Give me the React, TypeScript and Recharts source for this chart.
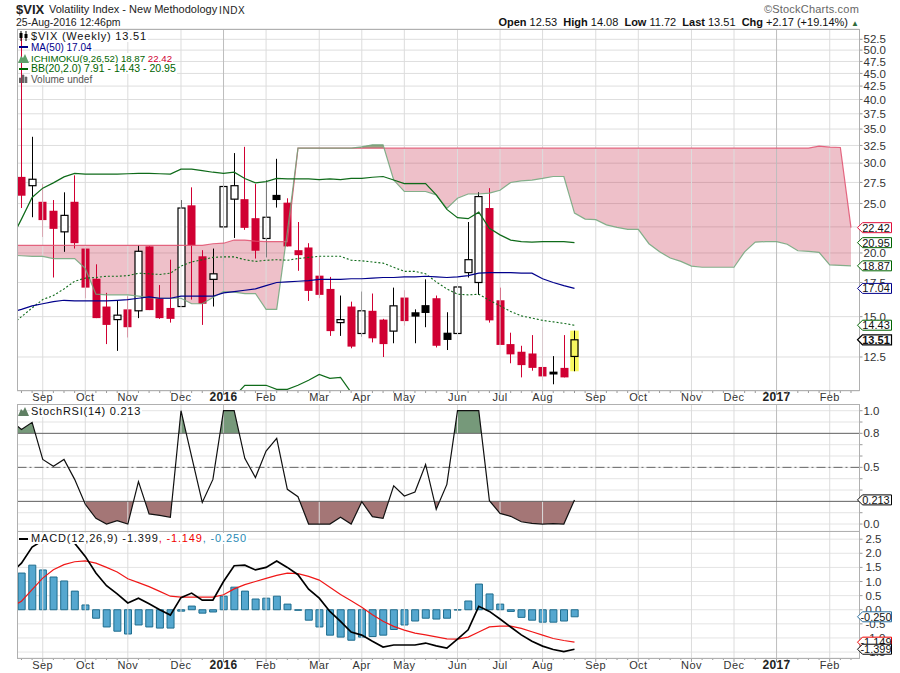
import React from "react";
import { ComposedChart, Bar, Line, Area, XAxis, YAxis, CartesianGrid, ReferenceLine, ReferenceArea, ReferenceDot } from "recharts";

// weekly candles, index 0 = Aug 2015
const opens = [28.2,27.1,25.2,24.2,22.0,25.2,20.4,17.8,15.7,14.8,15.5,15.4,20.6,16.3,15.6,15.7,24.8,19.7,17.75,22.5,25.5,25.5,23.4,21.35,26.0,25.1,20.25,20.5,18.05,17.0,14.6,15.7,13.9,15.4,14.8,14.05,16.35,15.3,15.8,16.3,13.95,13.9,18.3,17.5,24.5,16.15,13.25,12.8,12.7,11.95,11.7,11.9,12.53];
const highs = [53.3,33.8,27.3,25.4,26.3,28.4,20.5,19.0,16.7,16.1,16.45,20.7,20.6,17.3,19.4,25.4,26.9,20.25,20.4,27.1,31.4,32.3,27.3,27.8,30.6,25.6,23.0,20.9,19.65,17.95,16.5,16.05,16.8,16.65,14.85,17.1,16.9,15.5,17.75,16.5,15.3,17.4,23.0,26.3,26.8,17.1,13.95,13.15,13.8,14.3,12.55,13.8,14.08];
const lows = [24.5,23.5,21.5,17.9,20.1,20.4,16.3,14.9,13.25,12.85,13.65,14.9,15.45,14.85,14.6,15.7,16.2,14.45,15.7,19.3,21.4,22.2,19.5,19.6,24.55,20.6,18.45,16.1,16.3,13.75,13.75,13.0,13.7,13.35,12.5,13.3,14.4,13.3,14.3,13.05,12.9,12.75,17.9,16.55,14.6,13.2,12.15,11.4,11.75,11.25,11.05,11.4,11.72];
const closes = [25.9,27.9,23.2,22.3,23.7,20.9,17.1,14.9,14.45,15.1,14.3,20.15,15.45,14.9,14.85,24.5,20.7,15.9,18.2,27.0,27.1,22.4,20.2,23.5,25.4,20.6,19.8,16.85,16.55,14.05,14.8,13.1,15.4,13.6,13.25,15.75,14.7,15.0,15.25,13.15,13.5,17.15,19.4,25.8,14.75,13.2,12.65,12.05,11.9,11.45,11.55,11.4,13.51];
const candleKinds = "rhrrhrrrrhrhrrrhrrhhhrrhkrrrrrhrhrrhrkkrkhhhrrrrrrkrh";

// overlays start one week before the first candle (index -1)
const ma50 = [15.3,15.5,15.75,15.9,16.05,16.15,16.1,16.1,16.1,16.1,16.15,16.2,16.3,16.4,16.3,16.3,16.45,16.45,16.45,16.45,16.7,16.8,16.9,17.0,17.25,17.5,17.55,17.6,17.65,17.75,17.75,17.75,17.8,17.8,17.85,17.9,17.9,17.95,17.95,18.0,17.95,17.9,17.95,18.05,18.25,18.3,18.3,18.3,18.25,18.25,17.8,17.5,17.25,17.04];
const bbUpper = [21.2,23.3,25.7,26.8,27.45,28.2,28.65,28.55,28.55,28.55,28.55,28.6,28.65,28.65,28.6,28.55,29.2,29.2,29.0,28.8,28.65,28.8,28.0,27.45,27.6,28.0,27.95,27.95,27.95,27.85,27.95,27.85,28.0,28.0,28.15,28.25,27.8,27.35,27.35,27.35,26.0,24.35,23.45,23.35,24.05,22.35,21.7,21.2,21.05,21.0,21.05,21.05,21.05,20.95];
const bbMid = [14.4,15.0,15.6,16.2,16.5,17.0,17.6,17.85,17.9,18.0,18.0,18.05,18.25,18.2,18.15,18.25,18.85,19.2,19.4,19.6,19.65,19.65,19.4,19.25,19.35,19.4,19.35,19.5,19.6,19.7,19.7,19.7,19.35,19.3,19.2,19.1,18.75,18.4,18.4,18.2,17.55,17.0,16.6,16.55,16.6,16.15,15.75,15.35,15.05,14.9,14.75,14.65,14.55,14.43];
const bbLowerWeeks = [20,21,22,23,24,25,26,27,28,29,30,31,32];
const bbLowerValues = [10.45,11.0,11.0,11.0,10.8,10.8,11.0,11.25,11.55,11.35,11.4,10.65,10.2];

const spanA = [19.8,19.75,19.7,19.7,19.5,19.5,19.5,18.65,16.6,16.55,16.55,16.55,16.45,16.35,16.3,16.3,16.3,15.9,15.9,16.35,16.8,16.75,16.65,16.65,15.5,15.5,22.0,32.1,32.1,32.1,32.1,32.1,32.1,32.3,32.6,32.6,27.8,26.4,26.4,26.4,26.0,24.45,25.6,26.1,26.1,26.2,26.55,27.5,27.7,27.8,28.0,28.25,28.25,23.95,23.3,23.25,22.7,22.45,22.25,22.25,20.85,20.1,19.55,19.25,18.85,18.75,18.75,18.75,18.75,20.1,21.0,21.05,21.05,20.8,20.2,20.15,20.05,18.95,18.9,18.87];
const spanB = [20.7,20.7,20.7,20.7,20.7,20.7,20.7,20.7,20.7,20.7,20.7,20.7,20.7,20.7,20.7,20.7,20.7,20.7,20.7,20.85,20.9,21.2,21.2,21.1,21.05,21.05,21.05,
  32.1,32.1,32.1,32.1,32.1,32.1,32.1,32.1,32.1,32.1,32.1,32.1,32.1,32.1,32.1,32.1,32.1,32.1,32.1,32.1,32.1,32.1,32.1,32.1,32.1,32.1,32.1,32.1,32.1,32.1,32.1,32.1,32.1,32.1,32.1,32.1,32.1,32.1,32.1,32.1,32.1,32.1,32.1,32.1,32.1,32.1,32.1,32.1,32.1,
  32.4,32.25,32.2,22.42];

const stochRsi = [0.909,0.835,0.897,0.57,0.51,0.57,0.394,0.174,0.05,0,0.03,0,0.374,0.09,0.076,0.06,1,0.594,0.19,0.394,1,1,0.58,0.41,0.644,0.756,0.306,0.241,0,0,0,0.06,0,0.197,0.065,0.05,0.338,0.247,0.282,0.526,0.13,0.35,1,1,1,0.206,0.094,0.068,0.02,0.006,0,0.003,0,0.213];

const macdLine = [1.3,1.65,2.22,2.45,2.55,2.55,2.36,1.89,1.3,0.85,0.56,0.24,0.41,0.21,0,-0.19,0.43,0.59,0.34,0.34,1.0,1.56,1.58,1.41,1.5,1.73,1.5,1.24,0.73,0.41,-0.06,-0.41,-0.79,-0.9,-1.12,-1.32,-1.25,-1.25,-1.25,-1.18,-1.28,-1.36,-1.04,-0.71,0.12,-0.06,-0.33,-0.61,-0.89,-1.12,-1.29,-1.41,-1.48,-1.399];
const macdSignal = [0.09,0.3,0.71,1.12,1.42,1.6,1.7,1.73,1.65,1.5,1.34,1.1,0.96,0.82,0.65,0.48,0.45,0.45,0.45,0.45,0.53,0.74,0.89,1.0,1.11,1.22,1.3,1.28,1.18,1.05,0.8,0.54,0.32,0.09,-0.18,-0.41,-0.59,-0.72,-0.83,-0.89,-0.96,-1.03,-1.04,-0.97,-0.79,-0.61,-0.58,-0.58,-0.66,-0.78,-0.9,-1.02,-1.09,-1.149];
const macdHist = [1.3,1.58,1.41,1.16,1.02,0.66,0.17,-0.3,-0.61,-0.76,-0.86,-0.54,-0.61,-0.65,-0.65,-0.05,0.13,-0.12,-0.08,0.48,0.8,0.66,0.38,0.41,0.48,0.2,-0.02,-0.37,-0.61,-0.9,-0.97,-1.08,-0.97,-0.95,-0.9,-0.7,-0.54,-0.4,-0.3,-0.33,-0.3,-0.01,0.31,0.91,0.56,0.2,-0.06,-0.27,-0.37,-0.44,-0.44,-0.4,-0.25];

const monthTicks = [2,6,10,15,19,23,28,32,36,41,45,49,54,58,63,67,71,76];
const monthLabels = ["Sep","Oct","Nov","Dec","2016","Feb","Mar","Apr","May","Jun","Jul","Aug","Sep","Oct","Nov","Dec","2017","Feb"];
const weekTicks = Array.from({ length: 79 }, (_, i) => i);

const priceTicks = [12.5,15,17.5,20,22.5,25,27.5,30,32.5,35,37.5,40,42.5,45,47.5,50,52.5];
const stochTicks = [0,0.1,0.2,0.3,0.4,0.5,0.6,0.7,0.8,0.9,1];
const stochLabelled = [0,0.5,0.8,1];
const macdTicks = [-1.5,-1,-0.5,0,0.5,1,1.5,2,2.5];

const priceFlags = [
  { value: 22.42, color: "#e0103c" },
  { value: 20.95, color: "#006400" },
  { value: 18.87, color: "#006400" },
  { value: 17.04, color: "#00008b" },
  { value: 14.43, color: "#006400" },
];

const data = [-1, ...weekTicks].map((i) => {
  const k = i + 1;
  const lowerAt = bbLowerWeeks.indexOf(i);
  return {
    i,
    open: opens[i],
    high: highs[i],
    low: lows[i],
    close: closes[i],
    kind: candleKinds[i],
    ma: ma50[k],
    upper: bbUpper[k],
    mid: bbMid[k],
    lower: lowerAt >= 0 ? bbLowerValues[lowerAt] : null,
    spanA: spanA[k],
    spanB: spanB[k],
    stoch: stochRsi[k],
    macd: macdLine[k],
    signal: macdSignal[k],
    hist: i >= 0 ? macdHist[i] : undefined,
  };
});

const FONT = '"Liberation Sans", Arial, sans-serif';
const xDomain: [number, number] = [-0.42, 78.8];
const priceDomain: [number, number] = [10.72, 55];
const stochDomain: [number, number] = [-0.064, 1.059];
const macdDomain: [number, number] = [-1.71, 2.79];

function Candle(props: any) {
  const { x, y, width, height, payload } = props;
  if (payload.high === undefined) return null;
  const span = Math.log(payload.high) - Math.log(payload.low);
  const at = (v: number) => y + (height * (Math.log(payload.high) - Math.log(v))) / span;
  const top = at(Math.max(payload.open, payload.close));
  const bottom = at(Math.min(payload.open, payload.close));
  const color = payload.kind === "r" ? "#d00032" : "#000";
  const cx = Math.round(x + width / 2) + 0.5;
  return (
    <g>
      <line x1={cx} x2={cx} y1={y} y2={y + height} stroke={color} strokeWidth={1} />
      {payload.kind === "h" ? (
        <rect x={cx - 3.5} y={top} width={7} height={bottom - top} fill={payload.i === 52 ? "#f8f860" : "#fff"} stroke="#000" strokeWidth={1.2} />
      ) : (
        <rect x={cx - 4} y={top} width={8} height={Math.max(bottom - top, 1)} fill={color} />
      )}
    </g>
  );
}

function WeekTick(props: any) {
  const { x, y, payload, drop } = props;
  const at = monthTicks.indexOf(payload.value);
  const isMonth = at >= 0;
  const label = isMonth ? monthLabels[at] : null;
  const isYear = label === "2016" || label === "2017";
  return (
    <g>
      <line x1={x} x2={x} y1={y - 8} y2={y - 8 + (isMonth ? 4 : 2)} stroke="#999" />
      {label && (
        <text x={x} y={y + drop} textAnchor="middle" fontFamily={FONT} fontSize={isYear ? 12 : 11} fontWeight={isYear ? "bold" : "normal"} fill={isYear ? "#222" : "#333"} letterSpacing={0.4}>
          {label}
        </text>
      )}
    </g>
  );
}

const flagShape = (value: string, color: string, bold = false) => (p: any) => {
  const { cx, cy } = p;
  const left = cx + 3;
  const right = cx + 32;
  return (
    <g>
      <path d={`M${left - 5} ${cy} L${left} ${cy - 5} L${right} ${cy - 5} L${right} ${cy + 5} L${left} ${cy + 5} Z`} fill="#fff" stroke={color} strokeWidth={bold ? 1.2 : 1} />
      <text x={(left + right) / 2 - 1} y={cy + 4} textAnchor="middle" fontFamily={FONT} fontSize={11} fontWeight={bold ? "bold" : "normal"} fill="#111">
        {value}
      </text>
    </g>
  );
};

// value flags sit in their own chart so they cover the axis labels, as on the original
function FlagLayer({ top, height, bottom, yDomain, log, children }: any) {
  return (
    <div style={{ position: "absolute", left: 0, top }}>
      <ComposedChart width={900} height={height} data={data} margin={{ top: log ? 29 : 0, left: 17, right: 40.5, bottom }}>
        <XAxis dataKey="i" type="number" domain={xDomain} allowDataOverflow hide />
        <YAxis scale={log ? "log" : "auto"} domain={yDomain} allowDataOverflow hide />
        {children}
      </ComposedChart>
    </div>
  );
}

function monthLines() {
  return monthTicks.map((t, n) => (
    <ReferenceLine key={t} x={t} stroke={monthLabels[n].length === 4 ? "#bdbdbd" : "#dcdcdc"} strokeWidth={1} />
  ));
}

const yTickStyle = { fontFamily: FONT, fontSize: 11.5, fill: "#333" };

function PanelBorder({ top, height }: { top: number; height: number }) {
  return <div style={{ position: "absolute", left: 17, top, width: 843, height, border: "1px solid #b0b0b0", boxSizing: "border-box", pointerEvents: "none" }} />;
}

const legendBase: React.CSSProperties = { position: "absolute", left: 30, fontFamily: FONT, fontSize: 10, lineHeight: "11px", background: "#fff", whiteSpace: "nowrap", padding: "0 1px" };

const Dash = ({ color, top }: { color: string; top: number }) => (
  <div style={{ position: "absolute", left: 19, top, width: 9, height: 2, background: color }} />
);

const Mountain = ({ top, fill }: { top: number; fill: string }) => (
  <svg style={{ position: "absolute", left: 18, top }} width={11} height={10}>
    <path d="M0 10 L3 3 L5 5 L7 1 L11 10 Z" fill={fill} />
  </svg>
);

export default function App() {
  return (
    <div style={{ position: "absolute", left: 0, top: 0, width: 900, height: 673, background: "#fff", overflow: "hidden" }}>
      <div style={{ position: "absolute", left: 0, top: 0 }}>
        <ComposedChart width={900} height={404} data={data} margin={{ top: 29, left: 17, right: 0, bottom: 0 }}>
          <CartesianGrid vertical={false} stroke="#dedede" />
          {monthLines()}
          <XAxis dataKey="i" type="number" domain={xDomain} allowDataOverflow ticks={weekTicks} interval={0} tick={<WeekTick drop={2} />} tickLine={false} axisLine={false} height={13} />
          <YAxis orientation="right" scale="log" domain={priceDomain} allowDataOverflow ticks={priceTicks} interval={0} tick={yTickStyle} tickFormatter={(v: number) => v.toFixed(1)} tickSize={3} tickMargin={1} stroke="#999" axisLine={false} width={40.5} />
          <Area dataKey={(r: any) => [r.spanA, r.spanB]} stroke="none" fill="#c8304c" fillOpacity={0.3} isAnimationActive={false} />
          <Area dataKey={(r: any) => (r.spanA >= r.spanB ? [r.spanB, r.spanA] : null)} stroke="none" fill="#2f8a3a" fillOpacity={0.45} isAnimationActive={false} />
          <ReferenceArea x1={51.6} x2={52.4} y1={11.72} y2={14.08} fill="#f8f860" fillOpacity={1} stroke="none" />
          <Bar dataKey={(r: any) => (r.high === undefined ? null : [r.low, r.high])} barSize={8} shape={<Candle />} isAnimationActive={false} />
          <Line dataKey="spanB" stroke="#e0506e" strokeWidth={1.2} strokeOpacity={0.85} dot={false} isAnimationActive={false} />
          <Line dataKey="spanA" stroke="#6fa67a" strokeWidth={1.2} strokeOpacity={0.85} dot={false} isAnimationActive={false} />
          <Line dataKey="upper" stroke="#0f6b1a" strokeWidth={1.2} dot={false} isAnimationActive={false} />
          <Line dataKey="mid" stroke="#0f6b1a" strokeWidth={1.1} strokeDasharray="2 2" dot={false} isAnimationActive={false} />
          <Line dataKey="lower" stroke="#0f6b1a" strokeWidth={1.2} dot={false} isAnimationActive={false} />
          <Line dataKey="ma" stroke="#00008b" strokeWidth={1.2} dot={false} isAnimationActive={false} />
        </ComposedChart>
      </div>

      <div style={{ position: "absolute", left: 0, top: 404 }}>
        <ComposedChart width={900} height={127.3} data={data} margin={{ top: 0, left: 17, right: 0, bottom: 0 }}>
          <CartesianGrid vertical={false} stroke="#e4e4e4" />
          {monthLines()}
          <XAxis dataKey="i" type="number" domain={xDomain} allowDataOverflow ticks={weekTicks} hide />
          <YAxis orientation="right" domain={stochDomain} allowDataOverflow ticks={stochTicks} interval={0} tick={yTickStyle} tickFormatter={(v: number) => (stochLabelled.includes(v) ? v.toFixed(1) : "")} tickSize={3} tickMargin={1} stroke="#999" axisLine={false} width={40.5} />
          <defs>
            <linearGradient id="overbought" x1="0" y1="0" x2="0" y2="1">
              <stop offset="20%" stopColor="#76997a" />
              <stop offset="20%" stopColor="#76997a" stopOpacity={0} />
            </linearGradient>
            <linearGradient id="oversold" x1="0" y1="0" x2="0" y2="1">
              <stop offset="80%" stopColor="#a47676" stopOpacity={0} />
              <stop offset="80%" stopColor="#a47676" />
            </linearGradient>
          </defs>
          <Area dataKey="stoch" baseValue={0.8} stroke="none" fill="url(#overbought)" fillOpacity={1} isAnimationActive={false} />
          <Area dataKey="stoch" baseValue={0.2} stroke="none" fill="url(#oversold)" fillOpacity={1} isAnimationActive={false} />
          <ReferenceLine y={0.8} stroke="#666" />
          <ReferenceLine y={0.5} stroke="#666" strokeDasharray="9 3 2 3" />
          <ReferenceLine y={0.2} stroke="#666" />
          <Line dataKey="stoch" stroke="#111" strokeWidth={1.2} dot={false} isAnimationActive={false} />
        </ComposedChart>
      </div>

      <div style={{ position: "absolute", left: 0, top: 531.3 }}>
        <ComposedChart width={900} height={141} data={data} margin={{ top: 0, left: 17, right: 0, bottom: 0 }}>
          <CartesianGrid vertical={false} stroke="#e4e4e4" />
          {monthLines()}
          <XAxis dataKey="i" type="number" domain={xDomain} allowDataOverflow ticks={weekTicks} interval={0} tick={<WeekTick drop={3} />} tickLine={false} axisLine={false} height={14} />
          <YAxis orientation="right" domain={macdDomain} allowDataOverflow ticks={macdTicks} interval={0} tick={yTickStyle} tickFormatter={(v: number) => v.toFixed(1)} tickSize={3} tickMargin={3} stroke="#999" axisLine={false} width={40.5} />
          <Bar dataKey="hist" barSize={7} fill="#55a7cf" stroke="#1f6d8e" strokeWidth={1} isAnimationActive={false} />
          <Line dataKey="signal" stroke="#f01818" strokeWidth={1.2} dot={false} isAnimationActive={false} />
          <Line dataKey="macd" stroke="#000" strokeWidth={1.7} dot={false} isAnimationActive={false} />
        </ComposedChart>
      </div>

      <PanelBorder top={29} height={362} />
      <PanelBorder top={404} height={128} />
      <PanelBorder top={531} height={128} />

      <FlagLayer top={0} height={404} bottom={13} yDomain={priceDomain} log>
        {priceFlags.map((f) => (
          <ReferenceDot key={f.value} x={78.8} y={f.value} ifOverflow="visible" shape={flagShape(f.value.toFixed(2), f.color)} />
        ))}
        <ReferenceDot x={78.8} y={13.51} ifOverflow="visible" shape={flagShape("13.51", "#000", true)} />
      </FlagLayer>
      <FlagLayer top={404} height={127.3} bottom={0} yDomain={stochDomain}>
        <ReferenceDot x={78.8} y={0.213} ifOverflow="visible" shape={flagShape("0.213", "#000")} />
      </FlagLayer>
      <FlagLayer top={531.3} height={141} bottom={14} yDomain={macdDomain}>
        <ReferenceDot x={78.8} y={-0.25} ifOverflow="visible" shape={flagShape("-0.250", "#2a6f9e")} />
        <ReferenceDot x={78.8} y={-1.149} ifOverflow="visible" shape={flagShape("-1.149", "#f00000")} />
        <ReferenceDot x={78.8} y={-1.399} ifOverflow="visible" shape={flagShape("-1.399", "#000")} />
      </FlagLayer>

      <div style={{ position: "absolute", left: 16, top: 2, fontFamily: FONT, fontSize: 13, fontWeight: "bold", color: "#222", lineHeight: "15px" }}>$VIX</div>
      <div style={{ position: "absolute", left: 49, top: 3, fontFamily: FONT, fontSize: 11, color: "#222", whiteSpace: "nowrap", lineHeight: "13px" }}>Volatility Index - New Methodology</div>
      <div style={{ position: "absolute", left: 219, top: 4, fontFamily: FONT, fontSize: 10, color: "#222", lineHeight: "13px", letterSpacing: 0.6 }}>INDX</div>
      <div style={{ position: "absolute", left: 16, top: 16, fontFamily: FONT, fontSize: 10.5, color: "#222", whiteSpace: "nowrap", lineHeight: "13px" }}>25-Aug-2016 12:46pm</div>
      <div style={{ position: "absolute", right: 41, top: 3, fontFamily: FONT, fontSize: 11, color: "#666", lineHeight: "13px", letterSpacing: 0.2 }}>©StockCharts.com</div>
      <div style={{ position: "absolute", right: 41, top: 16, fontFamily: FONT, fontSize: 11, color: "#111", whiteSpace: "nowrap", lineHeight: "13px" }}>
        <b>Open</b> 12.53&nbsp;&nbsp;<b>High</b> 14.08&nbsp;&nbsp;<b>Low</b> 11.72&nbsp;&nbsp;<b>Last</b> 13.51&nbsp;&nbsp;<b>Chg</b> +2.17 (+19.14%) <span style={{ color: "#2e6b3a", fontSize: 8 }}>▲</span>
      </div>

      <svg style={{ position: "absolute", left: 19, top: 31 }} width={10} height={10}>
        <path d="M2 0 V10 M7 0 V10" stroke="#000" />
        <rect x={0.5} y={2} width={3} height={5} fill="#000" />
        <rect x={5.5} y={3} width={3} height={4} fill="#000" />
      </svg>
      <div style={{ ...legendBase, top: 30.5, fontSize: 11, color: "#111", letterSpacing: 0.8 }}>$VIX (Weekly) 13.51</div>
      <Dash color="#00008b" top={46} />
      <div style={{ ...legendBase, top: 41.5, color: "#00008b" }}>MA(50) 17.04</div>
      <Mountain top={53} fill="#5f9f6a" />
      <div style={{ ...legendBase, top: 52.5, fontSize: 9.7, color: "#006400" }}>ICHIMOKU(9,26,52) 18.87 <span style={{ color: "#d00032" }}>22.42</span></div>
      <Dash color="#006400" top={68} />
      <div style={{ ...legendBase, top: 63, fontSize: 10.5, color: "#006400" }}>BB(20,2.0) 7.91 - 14.43 - 20.95</div>
      <svg style={{ position: "absolute", left: 19, top: 74 }} width={9} height={9}>
        <path d="M0 9 V4 H2 V9 M3 9 V1 H5 V9 M6 9 V3 H8 V9" fill="#666" stroke="#666" strokeWidth={0.6} />
      </svg>
      <div style={{ ...legendBase, top: 73.5, color: "#555" }}>Volume undef</div>

      <Mountain top={406} fill="#5f7f63" />
      <div style={{ ...legendBase, top: 406, fontSize: 11, color: "#111", letterSpacing: 0.75 }}>StochRSI(14) 0.213</div>
      <Dash color="#000" top={538} />
      <div style={{ ...legendBase, top: 533, fontSize: 11, color: "#111", letterSpacing: 0.85 }}>
        MACD(12,26,9) -1.399<span style={{ color: "#f00000" }}>, -1.149</span>
        <span style={{ color: "#2a8ab5" }}>, -0.250</span>
      </div>
    </div>
  );
}
